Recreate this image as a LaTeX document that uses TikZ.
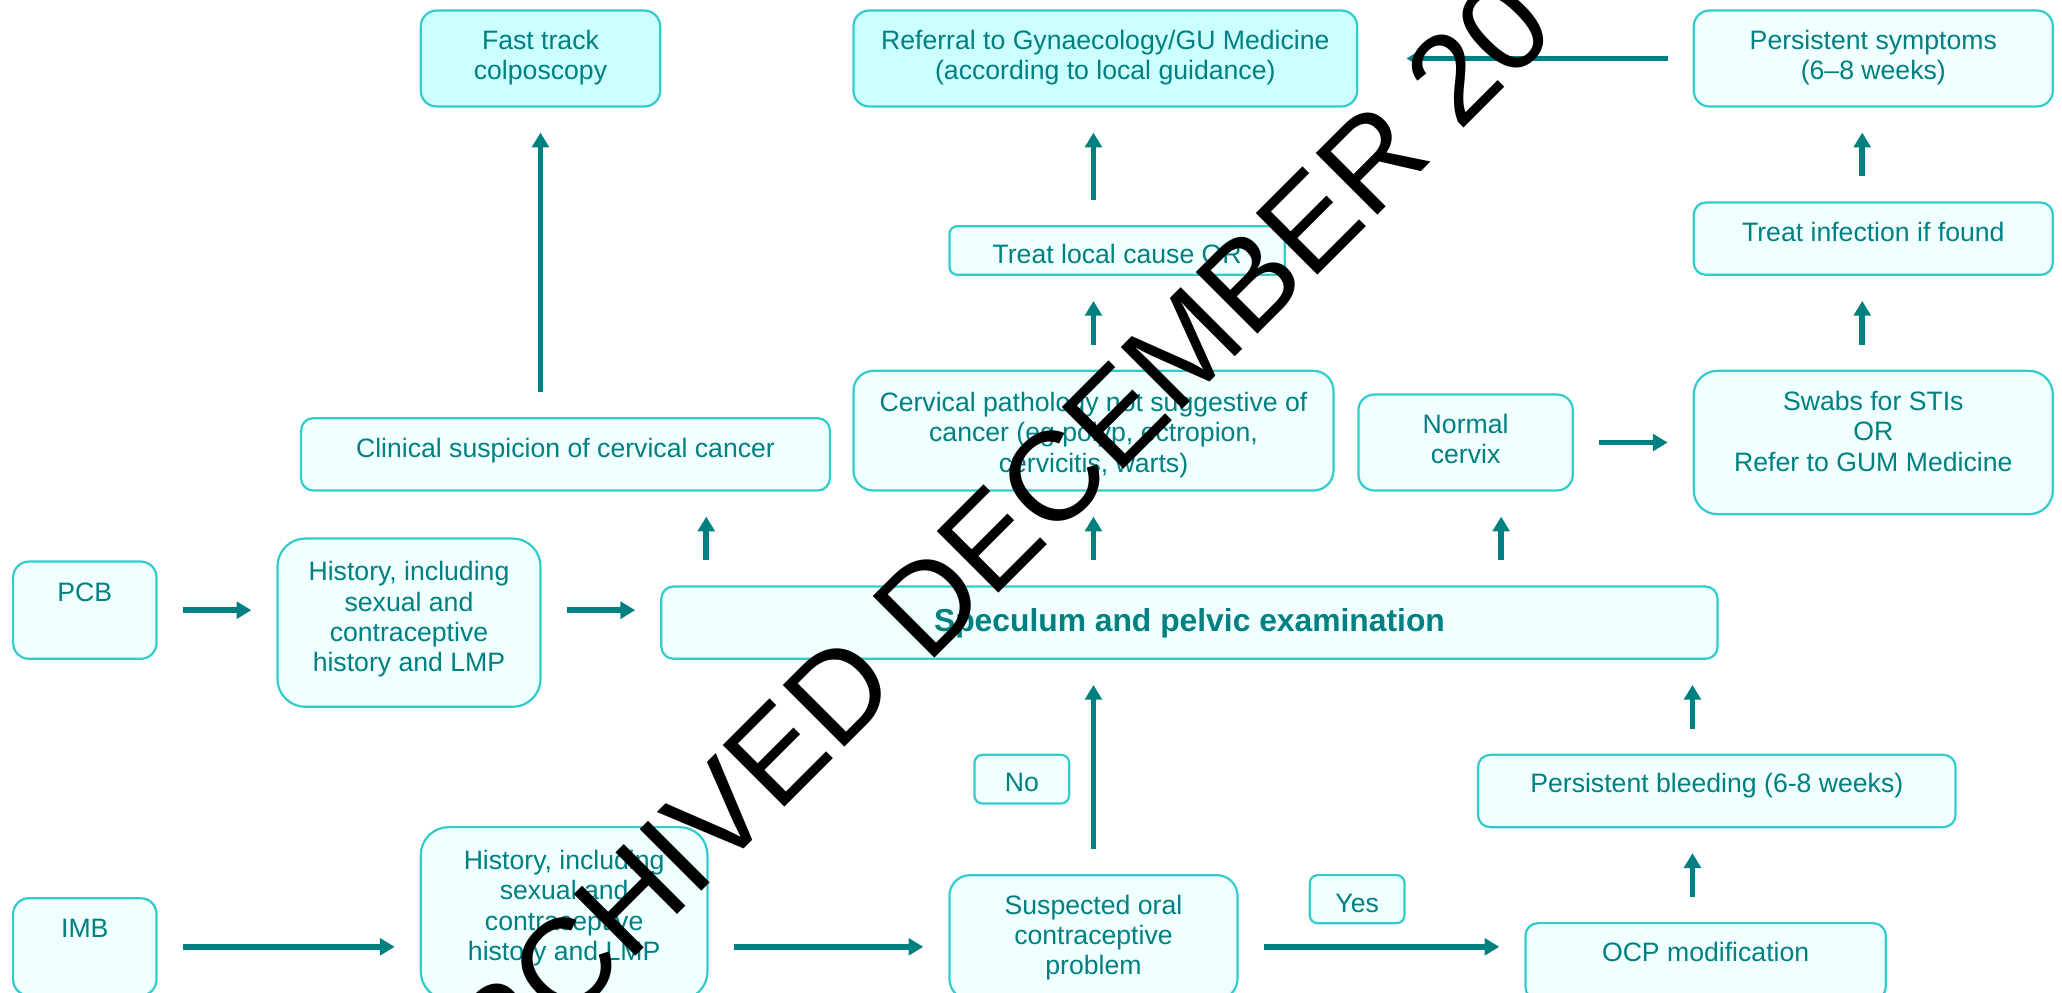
\documentclass[tikz,border=0pt]{standalone}
\usepackage{fontspec}
\setmainfont{Liberation Sans}
\usetikzlibrary{arrows.meta}
\definecolor{tealtext}{RGB}{0,128,128}
\definecolor{boxline}{RGB}{51,204,204}
\definecolor{boxfill}{RGB}{240,255,255}
\definecolor{boxcyan}{RGB}{204,255,255}

\begin{document}
\begin{tikzpicture}[x=0.025cm, y=0.025cm]
\tikzstyle{every node}+=[inner sep=0pt]
\tikzstyle{flowbox}=[draw=boxline, fill=boxfill, line width=1.2pt, text=tealtext, align=center, inner xsep=2pt, font=\fontsize{14.4pt}{16.4pt}\selectfont, text height=21pt]
\tikzstyle{flowarrow}=[draw=tealtext, line width=3pt, -{Triangle[length=8pt,width=9pt]}, shorten <=13.5pt, shorten >=13.5pt]
\useasboundingbox (0,0) rectangle (1568,-755);
\clip (0,0) rectangle (1568,-755);
\node[flowbox, fill=boxcyan, minimum width=4.55cm, text height=37.4pt, text depth=14.5pt, rounded corners=0.3cm] (fast) at (411,-44.5) {Fast track\\colposcopy};
\node[flowbox, fill=boxcyan, minimum width=9.575cm, text height=37.4pt, text depth=14.5pt, rounded corners=0.3cm] (referral) at (840.5,-44.5) {Referral to Gynaecology/GU Medicine\\(according to local guidance)};
\node[flowbox, minimum width=6.825cm, text height=37.4pt, text depth=14.5pt, rounded corners=0.3cm] (persistsym) at (1424.5,-44.5) {Persistent symptoms\\(6--8 weeks)};
\node[flowbox, minimum width=6.375cm, text height=20pt, text depth=6.3pt, rounded corners=0.15cm] (treatlocal) at (849.5,-190.5) {Treat local cause OR};
\node[flowbox, minimum width=6.825cm, text depth=18.1pt, rounded corners=0.23cm] (treatinf) at (1424.5,-181.5) {Treat infection if found};
\node[flowbox, minimum width=10.05cm, text depth=18.1pt, rounded corners=0.23cm] (clinical) at (430,-345.5) {Clinical suspicion of cervical cancer};
\node[flowbox, minimum width=9.125cm, text height=54.7pt, text depth=10pt, rounded corners=0.38cm] (cervical) at (831.5,-327.5) {Cervical pathology not suggestive of\\cancer (eg polyp, ectropion,\\cervicitis, warts)};
\node[flowbox, minimum width=4.075cm, text height=37.4pt, text depth=14.5pt, rounded corners=0.3cm] (normal) at (1114.5,-336.5) {Normal\\cervix};
\node[flowbox, minimum width=6.825cm, text height=54.3pt, text depth=23.2pt, rounded corners=0.45cm] (swabs) at (1424.5,-336.5) {Swabs for STIs\\OR\\Refer to GUM Medicine};
\node[flowbox, minimum width=2.725cm, text height=21.5pt, text depth=31.1pt, rounded corners=0.3cm] (pcb) at (64.5,-464) {PCB};
\node[flowbox, minimum width=5cm, text height=72.1pt, text depth=18.9pt, rounded corners=0.53cm] (history1) at (311,-473.5) {History, including\\sexual and\\contraceptive\\history and LMP};
\node[flowbox, minimum width=20.075cm, text height=24.3pt, text depth=14.8pt, rounded corners=0.23cm, font=\fontsize{17.2pt}{20pt}\selectfont\bfseries] (speculum) at (904.5,-473.5) {Speculum and pelvic examination};
\node[flowbox, minimum width=2.725cm, text height=21.5pt, text depth=31.1pt, rounded corners=0.3cm] (imb) at (64.5,-720) {IMB};
\node[flowbox, minimum width=5.45cm, text height=72.1pt, text depth=21.1pt, rounded corners=0.53cm] (history2) at (429,-694.5) {History, including\\sexual and\\contraceptive\\history and LMP};
\node[flowbox, minimum width=5.475cm, text height=53.8pt, text depth=13.4pt, rounded corners=0.39cm] (suspected) at (831.5,-712.75) {Suspected oral\\contraceptive\\problem};
\node[flowbox, minimum width=1.8cm, text height=20pt, text depth=6pt, rounded corners=0.15cm] (yes) at (1032,-683.75) {Yes};
\node[flowbox, minimum width=1.8cm, text height=20pt, text depth=6.3pt, rounded corners=0.15cm] (no) at (777,-592.5) {No};
\node[flowbox, minimum width=9.075cm, text height=20.1pt, text depth=19pt, rounded corners=0.23cm] (bleeding) at (1305.5,-601.5) {Persistent bleeding (6-8 weeks)};
\node[flowbox, minimum width=6.85cm, text depth=20.3pt, rounded corners=0.24cm] (ocp) at (1297,-731) {OCP modification};
\draw[flowarrow] (clinical.north -| fast.south) -- (fast.south);
\draw[flowarrow] (cervical.north |- treatlocal.north) -- (cervical.north |- referral.south);
\draw[flowarrow] (cervical.north) -- (cervical.north |- treatlocal.south);
\draw[flowarrow, shorten >=26pt] (persistsym.west) -- (referral.east);
\draw[flowarrow] ([xshift=-0.21cm]treatinf.north) -- ([xshift=-0.21cm]persistsym.south);
\draw[flowarrow] ([xshift=-0.21cm]swabs.north) -- ([xshift=-0.21cm]treatinf.south);
\draw[flowarrow] (normal.east) -- (swabs.west);
\draw[flowarrow] ([xshift=0.875cm]speculum.north west) -- ([xshift=0.875cm]speculum.north west |- clinical.south);
\draw[flowarrow] (speculum.north -| cervical.south) -- (cervical.south);
\draw[flowarrow] ([xshift=0.675cm]normal.south |- speculum.north) -- ([xshift=0.675cm]normal.south);
\draw[flowarrow] (pcb.east) -- (pcb.east -| history1.west);
\draw[flowarrow] (history1.east |- pcb.east) -- (speculum.west |- pcb.east);
\draw[flowarrow] (imb.east) -- (imb.east -| history2.west);
\draw[flowarrow] (history2.east |- imb.east) -- (suspected.west |- imb.east);
\draw[flowarrow] (suspected.east |- imb.east) -- (ocp.west |- imb.east);
\draw[flowarrow] (suspected.north) -- (suspected.north |- speculum.south);
\draw[flowarrow] ([xshift=-0.25cm]ocp.north) -- ([xshift=-0.25cm]ocp.north |- bleeding.south);
\draw[flowarrow] ([xshift=-0.25cm]ocp.north |- bleeding.north) -- ([xshift=-0.25cm]ocp.north |- speculum.south);
\node[anchor=base west, rotate=45, font=\fontsize{68.5pt}{70pt}\selectfont] (stamp) at (334,-877) {ARCHIVED DECEMBER 20};
\end{tikzpicture}
\end{document}
